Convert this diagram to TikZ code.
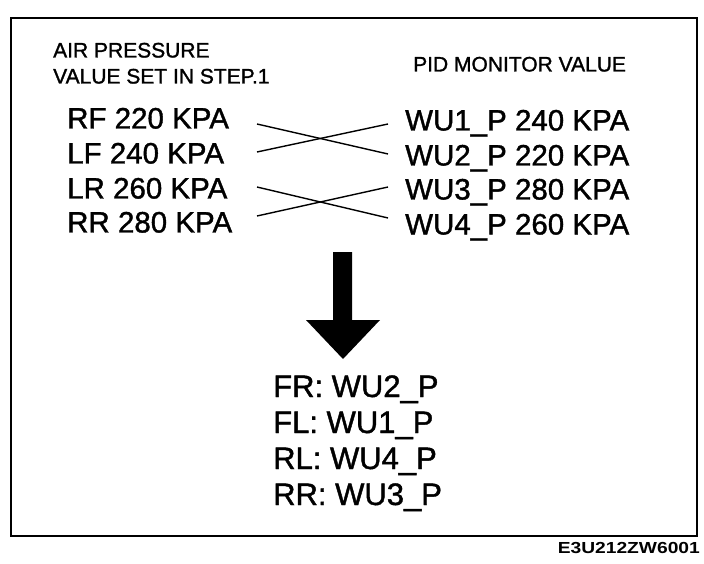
\documentclass[tikz,border=0pt]{standalone}
\usepackage{fontspec}
\setmainfont{Liberation Sans}
\newfontfamily\heavysans[FakeBold=1.3]{Liberation Sans}
\begin{document}
\begin{tikzpicture}[x=1pt,y=-1pt,
  hdr/.style={anchor=base west, inner sep=0pt, font=\heavysans\fontsize{21}{25}\selectfont},
  val/.style={anchor=base west, inner sep=0pt, font=\heavysans\fontsize{29.5}{35}\selectfont},
  res/.style={anchor=base west, inner sep=0pt, font=\heavysans\fontsize{31}{36}\selectfont},
  cross/.style={line width=1.4pt},
  frame/.style={line width=2pt}]
\useasboundingbox (0,0) rectangle (704,564);
\draw[frame] (11,18) rectangle (697,536);
% headers
\node[hdr] (h1) at (53,57.5) {AIR PRESSURE};
\node[hdr] (h2) at (53,83.5) {VALUE SET IN STEP.1};
\node[hdr] (h3) at (413,71.5) {PID MONITOR VALUE};
% left column
\node[val] (l1) at (67,128.5) {RF 220 KPA};
\node[val] (l2) at (67,163.5) {LF 240 KPA};
\node[val] (l3) at (67,198.5) {LR 260 KPA};
\node[val] (l4) at (67,232.5) {RR 280 KPA};
% right column
\node[val] (r1) at (405,130.5) {WU1\_P 240 KPA};
\node[val] (r2) at (405,165.5) {WU2\_P 220 KPA};
\node[val] (r3) at (405,199.5) {WU3\_P 280 KPA};
\node[val] (r4) at (405,234.5) {WU4\_P 260 KPA};
% crossing connectors
\coordinate (a1) at (257,124);
\coordinate (a2) at (257,152);
\coordinate (a3) at (257,187);
\coordinate (a4) at (257,216);
\coordinate (b1) at (388,124);
\coordinate (b2) at (388,154);
\coordinate (b3) at (388,187);
\coordinate (b4) at (388,218);
\draw[cross] (a1) -- (b2);
\draw[cross] (a2) -- (b1);
\draw[cross] (a3) -- (b4);
\draw[cross] (a4) -- (b3);
% big arrow
\fill (333,252) -- (352,252) -- (352,320) -- (380,320) -- (343,359)
      -- (306,320) -- (333,320) -- cycle;
% result list
\node[res] (f1) at (273,397) {FR: WU2\_P};
\node[res] (f2) at (273,433) {FL: WU1\_P};
\node[res] (f3) at (273,469) {RL: WU4\_P};
\node[res] (f4) at (273,505) {RR: WU3\_P};
% code label
\node[anchor=base east, inner sep=0pt, font=\bfseries\fontsize{16}{18}\selectfont] (code) at (700,553) {\scalebox{1.2}[1]{E3U212ZW6001}};
\end{tikzpicture}
\end{document}
